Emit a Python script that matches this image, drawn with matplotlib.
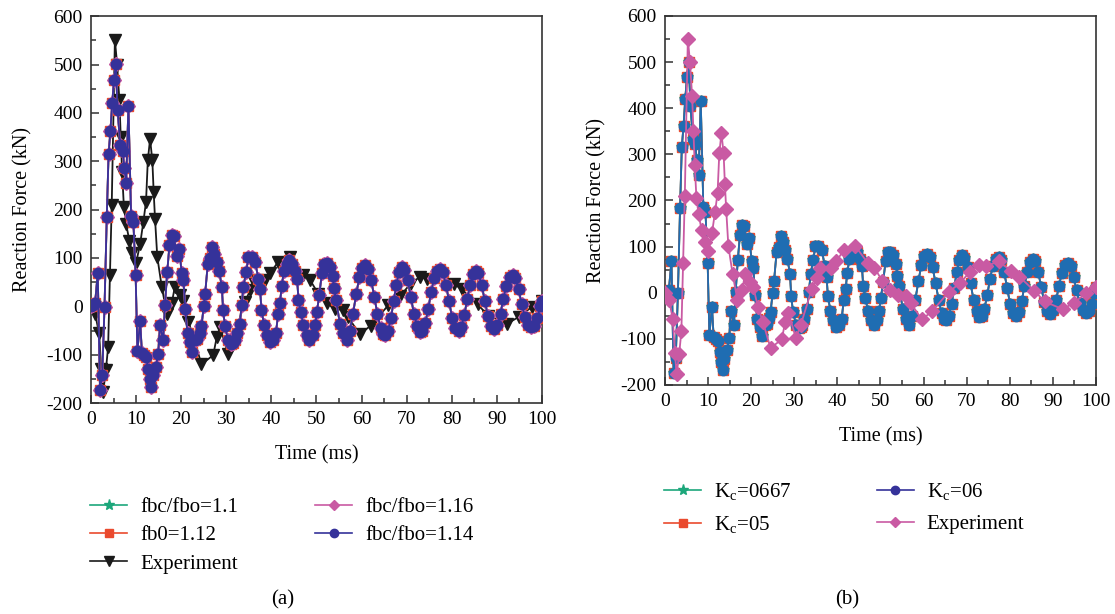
import matplotlib
matplotlib.use('Agg')
import matplotlib.pyplot as plt
from matplotlib.lines import Line2D
from matplotlib.ticker import MultipleLocator

plt.rcParams['font.family'] = ['Liberation Serif', 'DejaVu Serif']
plt.rcParams['mathtext.fontset'] = 'custom'
plt.rcParams['mathtext.rm'] = 'Liberation Serif'
plt.rcParams['axes.unicode_minus'] = False

# --- Data --- #

# simulated reaction force (all simulated cases sit on top of each other)
t_sim = [0, 0.5, 0.9, 1.5, 2.0, 2.5, 3.0, 3.5, 3.9, 4.3,
         4.7, 5.1, 5.5, 5.9, 6.5, 7.0, 7.4, 7.8, 8.3, 8.9,
         9.4, 9.9, 10.3, 10.9, 11.3, 11.8, 12.2, 12.7, 13.1, 13.4,
         13.8, 14.4, 14.9, 15.3, 16.0, 16.4, 16.9, 17.4, 17.9, 18.4,
         19.0, 19.6, 20.1, 20.5, 20.9, 21.4, 22.0, 22.4, 23.1, 23.6,
         24.1, 24.5, 25.0, 25.3, 25.9, 26.4, 26.9, 27.3, 27.9, 28.4,
         29.0, 29.3, 29.7, 30.4, 31.0, 31.5, 31.9, 32.3, 33.0, 33.4,
         33.8, 34.4, 34.9, 35.6, 36.4, 37.1, 37.5, 37.8, 38.4, 39.0,
         39.7, 40.4, 41.0, 41.5, 41.9, 42.3, 42.8, 43.4, 44.0, 44.5,
         45.2, 45.7, 46.0, 46.5, 47.1, 47.8, 48.4, 49.3, 49.7, 50.1,
         50.6, 51.2, 51.7, 52.3, 52.9, 53.6, 53.9, 54.3, 55.2, 55.9,
         56.7, 57.4, 58.1, 58.8, 59.5, 60.1, 60.8, 61.4, 62.1, 62.8,
         63.5, 64.2, 64.8, 65.3, 65.9, 66.5, 67.1, 67.7, 68.3, 68.9,
         69.5, 70.2, 70.9, 71.6, 72.3, 72.9, 73.5, 74.1, 74.8, 75.4,
         76.1, 76.7, 77.4, 78.0, 78.7, 79.4, 80.1, 80.8, 81.5, 82.1,
         82.8, 83.4, 84.1, 84.7, 85.3, 85.9, 86.6, 87.3, 88.0, 88.7,
         89.4, 90.1, 90.8, 91.4, 92.1, 92.8, 93.5, 94.1, 94.8, 95.5,
         96.2, 96.9, 97.6, 98.3, 99.0, 99.6, 100]
f_sim = [0, 3, 6, 69, -174, -141, -1, 184, 315, 362,
         420, 468, 501, 405, 333, 322, 287, 256, 415, 186,
         174, 64, -92, -30, -97, -100, -105, -129, -150, -167,
         -143, -125, -98, -39, -70, 2, 71, 126, 147, 145,
         105, 119, 68, 54, -5, -56, -74, -94, -70, -67,
         -55, -41, 0, 25, 88, 99, 123, 109, 92, 74,
         41, -8, -41, -69, -77, -75, -70, -56, -36, 2,
         41, 71, 101, 102, 92, 57, 35, -8, -39, -60,
         -74, -70, -56, -15, 7, 43, 74, 88, 95, 88,
         74, 57, 14, -12, -39, -60, -70, -60, -39, -12,
         23, 68, 88, 89, 82, 62, 37, 14, -36, -56,
         -70, -50, -15, 25, 60, 80, 85, 78, 55, 20,
         -15, -45, -58, -60, -50, -25, 10, 45, 70, 81,
         75, 55, 20, -15, -40, -53, -50, -35, -5, 30,
         58, 74, 78, 70, 45, 10, -25, -45, -50, -42,
         -18, 15, 45, 66, 74, 68, 45, 12, -20, -40,
         -46, -38, -15, 15, 42, 60, 64, 58, 35, 5,
         -22, -38, -43, -40, -25, 0, 12]

# measured reaction force
t_exp = [0, 0.9, 1.8, 2.3, 2.7, 3.3, 3.8, 4.2, 4.6, 5.3,
         5.8, 6.3, 6.6, 6.9, 7.3, 7.8, 8.5, 9.2, 10.0, 10.9,
         11.6, 12.2, 12.6, 13.1, 13.6, 13.9, 14.2, 14.7, 15.7, 16.8,
         17.9, 18.6, 19.7, 20.5, 21.6, 22.7, 24.5, 27.1, 27.9, 28.6,
         30.4, 31.5, 34.1, 35.3, 36.0, 38.6, 39.7, 41.5, 44.1, 47.1,
         48.6, 50.4, 52.3, 54.1, 55.9, 57.0, 59.6, 62.0, 65.9, 68.5,
         70.7, 72.9, 74.4, 77.4, 80.4, 82.2, 85.7, 88.1, 92.3, 94.8,
         97.8, 100]
f_exp = [0, -15, -56, -130, -177, -132, -84, 64, 210, 551,
         500, 426, 350, 277, 205, 170, 136, 110, 90, 129,
         174, 216, 302, 346, 302, 236, 181, 102, 40, -15,
         6, 41, 23, 12, -32, -63, -120, -101, -63, -43,
         -98, -70, 9, 33, 54, 54, 68, 92, 102, 64,
         54, 26, 6, -5, -8, -22, -58, -40, 2, 21,
         45, 61, 57, 68, 47, 35, 4, -19, -36, -22,
         -1, 12]

labels_a = ['fbc/fbo=1.1', 'fb0=1.12', 'Experiment', 'fbc/fbo=1.16', 'fbc/fbo=1.14']
labels_b = ['K$_{\\mathregular{c}}$=0667', 'K$_{\\mathregular{c}}$=05',
            'K$_{\\mathregular{c}}$=06', 'Experiment']

green = '#1ca77b'
red = '#ea4a2e'
black = '#1a1a1a'
pink = '#c95aa3'
navy = '#35329a'
blue = '#1f6db2'


def style_axes(ax):
    ax.set_xlim(0, 100)
    ax.set_ylim(-200, 600)
    ax.xaxis.set_major_locator(MultipleLocator(10))
    ax.xaxis.set_minor_locator(MultipleLocator(5))
    ax.yaxis.set_major_locator(MultipleLocator(100))
    ax.yaxis.set_minor_locator(MultipleLocator(50))
    ax.tick_params(which='both', direction='in', top=False, right=False,
                   labelsize=14, pad=6, width=1.1, color='#333333')
    ax.tick_params(which='major', length=6)
    ax.tick_params(which='minor', length=3.5)
    for sp in ax.spines.values():
        sp.set_linewidth(1.2)
        sp.set_color('#333333')
    ax.set_xlabel('Time (ms)', fontsize=14.5, labelpad=12)
    ax.set_ylabel('Reaction Force (kN)', fontsize=14.5, labelpad=10)


fig = plt.figure(figsize=(11.15, 6.14), dpi=100)

# --- (a) --- #
ax1 = fig.add_axes([0.0816, 0.3436, 0.4045, 0.630])
ax1.plot(t_exp, f_exp, color=black, marker='v', ms=8.5, lw=1.3, zorder=2)
ax1.plot(t_sim, f_sim, color=green, marker='*', ms=9, lw=1.3, zorder=3)
ax1.plot(t_sim, f_sim, color=red, marker='s', ms=7, lw=1.3, zorder=4)
ax1.plot(t_sim, f_sim, color=pink, marker='D', ms=7, lw=1.3, zorder=5)
ax1.plot(t_sim, f_sim, color=navy, marker='o', ms=7.5, lw=1.3, zorder=6)
style_axes(ax1)

leg_a = [Line2D([], [], color=green, marker='*', ms=8, lw=1.2),
         Line2D([], [], color=red, marker='s', ms=6, lw=1.2),
         Line2D([], [], color=black, marker='v', ms=7, lw=1.2),
         Line2D([], [], color=pink, marker='D', ms=5.5, lw=1.2),
         Line2D([], [], color=navy, marker='o', ms=6, lw=1.2)]
fig.legend(leg_a, labels_a, ncol=2, loc='upper left', bbox_to_anchor=(0.0807, 0.190),
           frameon=False, fontsize=15, borderpad=0, borderaxespad=0,
           handlelength=1.8, handletextpad=0.6, columnspacing=3.7,
           labelspacing=0.42)
fig.text(283 / 1115, 1 - 600 / 614, '(a)', ha='center', va='center', fontsize=15)

# --- (b) --- #
ax2 = fig.add_axes([0.5964, 0.373, 0.3865, 0.601])
ax2.plot(t_sim, f_sim, color=green, marker='*', ms=9, lw=1.3, zorder=2)
ax2.plot(t_sim, f_sim, color=red, marker='s', ms=7, lw=1.3, zorder=3)
ax2.plot(t_sim, f_sim, color=blue, marker='o', ms=7.5, lw=1.3, zorder=4)
ax2.plot(t_exp, f_exp, color=pink, marker='D', ms=7.5, lw=1.3, zorder=5)
style_axes(ax2)

leg_b = [Line2D([], [], color=green, marker='*', ms=8, lw=1.2),
         Line2D([], [], color=red, marker='s', ms=6, lw=1.2),
         Line2D([], [], color=navy, marker='o', ms=6, lw=1.2),
         Line2D([], [], color=pink, marker='D', ms=5.5, lw=1.2)]
fig.legend(leg_b, labels_b, ncol=2, loc='upper left', bbox_to_anchor=(0.5955, 0.216),
           frameon=False, fontsize=15, borderpad=0, borderaxespad=0,
           handlelength=1.8, handletextpad=0.6, columnspacing=4.1,
           labelspacing=0.55)
fig.text(847 / 1115, 1 - 600 / 614, '(b)', ha='center', va='center', fontsize=15)

fig.savefig('out.png', dpi=100)
